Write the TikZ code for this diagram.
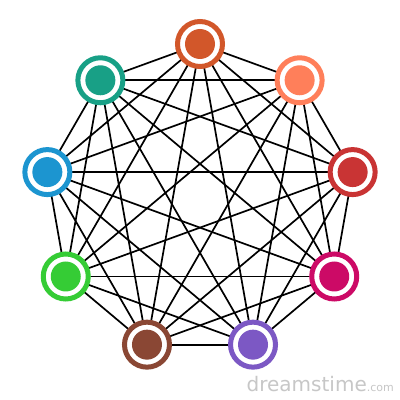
\documentclass[tikz,border=0pt]{standalone}
\usepackage{fontspec}
\setsansfont{DejaVu Sans}
\definecolor{c1}{HTML}{D2572A}
\definecolor{c2}{HTML}{FF7F5A}
\definecolor{c3}{HTML}{C93434}
\definecolor{c4}{HTML}{CC0A66}
\definecolor{c5}{HTML}{7C58C4}
\definecolor{c6}{HTML}{8A4734}
\definecolor{c7}{HTML}{35CC35}
\definecolor{c8}{HTML}{1C95D0}
\definecolor{c9}{HTML}{18A086}
\tikzset{
  vtx/.style={circle, draw=#1, line width=5pt, fill=white, minimum size=45pt, inner sep=0pt,
    path picture={\fill[#1] (path picture bounding box.center) circle (15pt);}},
  edge/.style={line width=1.7pt, black}
}
\begin{document}
\begin{tikzpicture}[x=1pt,y=1pt]
\useasboundingbox (0,0) rectangle (400,400);
\fill[white] (0,0) rectangle (400,400);
\foreach \i/\a in {1/90,2/50,3/10,4/-30,5/-70,6/-110,7/-150,8/170,9/130}{
  \coordinate (p\i) at ([shift={(\a:155)}]200,201);
}
\foreach \i in {1,...,9}{
  \foreach \j in {1,...,9}{
    \ifnum\i<\j \draw[edge] (p\i) -- (p\j); \fi
  }
}
\node[vtx=c1] (n1) at (p1) {};
\node[vtx=c2] (n2) at (p2) {};
\node[vtx=c3] (n3) at (p3) {};
\node[vtx=c4] (n4) at (p4) {};
\node[vtx=c5] (n5) at (p5) {};
\node[vtx=c6] (n6) at (p6) {};
\node[vtx=c7] (n7) at (p7) {};
\node[vtx=c8] (n8) at (p8) {};
\node[vtx=c9] (n9) at (p9) {};
\node[text=black!22, font=\sffamily\fontsize{20}{22}\selectfont, anchor=south east, inner sep=0pt] (wm) at (394,8) {dreamstime{\fontsize{11}{12}\selectfont.com}};
\end{tikzpicture}
\end{document}
